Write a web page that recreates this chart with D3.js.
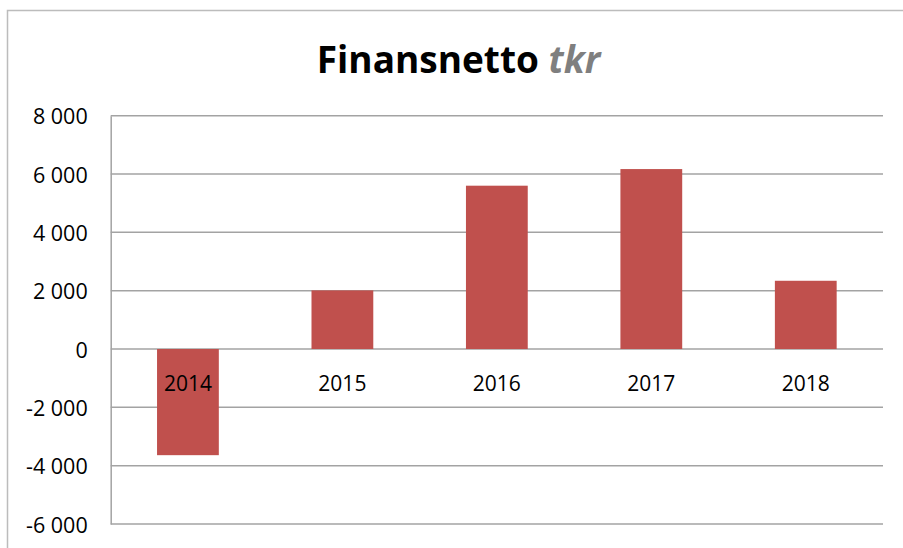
<!DOCTYPE html>
<html>
<head>
<meta charset="utf-8">
<script src="https://cdn.jsdelivr.net/npm/d3@7"></script>
<style>
  body { margin: 0; background: #fff; }
  text { font-family: "Open Sans", sans-serif; }
</style>
</head>
<body>
<script>
// chart data
var years = ["2014", "2015", "2016", "2017", "2018"];
var finansnetto = [-3640, 2010, 5600, 6170, 2340];
var yTicks = [-6000, -4000, -2000, 0, 2000, 4000, 6000, 8000];

var window_w = 903, window_h = 548;

var svg = d3.select("body").append("svg")
    .attr("width", window_w)
    .attr("height", window_h);

// outer chart border (runs off the right and bottom edge)
svg.append("rect")
    .attr("x", 7.5).attr("y", 10.5)
    .attr("width", 1000).attr("height", 1000)
    .attr("fill", "none")
    .attr("stroke", "#bcbcbc")
    .attr("stroke-width", 1.5);

var plot = {left: 110.7, right: 883, top: 115.7, bottom: 524};

var xScale = d3.scaleBand()
    .domain(years)
    .range([plot.left, plot.right])
    .paddingInner(0.6)
    .paddingOuter(0.3);

var yScale = d3.scaleLinear()
    .domain([-6000, 8000])
    .range([plot.bottom, plot.top]);

var fmt = d3.formatLocale({decimal: ",", thousands: " ", grouping: [3], currency: ["", ""], minus: "-"}).format(",d");

// gridlines
svg.append("g").selectAll("line")
    .data(yTicks)
    .join("line")
    .attr("x1", plot.left).attr("x2", plot.right)
    .attr("y1", function(d){ return yScale(d); })
    .attr("y2", function(d){ return yScale(d); })
    .attr("stroke", "#a3a3a3")
    .attr("stroke-width", 1.5);

// y axis
var yAxis = d3.axisLeft(yScale)
    .tickValues(yTicks)
    .tickFormat(fmt)
    .tickSize(0)
    .tickPadding(23);

var yAxisG = svg.append("g")
    .attr("transform", "translate(" + plot.left + ",0)")
    .call(yAxis);
yAxisG.select(".domain").attr("stroke", "#a3a3a3").attr("stroke-width", 1.5);
yAxisG.selectAll("text")
    .attr("font-family", "Open Sans, sans-serif")
    .attr("font-size", 21.5)
    .attr("fill", "#000")
    .attr("dy", "0.38em");

// bars
svg.append("g").selectAll("rect")
    .data(finansnetto)
    .join("rect")
    .attr("x", function(d, i){ return xScale(years[i]); })
    .attr("width", xScale.bandwidth())
    .attr("y", function(d){ return yScale(Math.max(0, d)); })
    .attr("height", function(d){ return Math.abs(yScale(d) - yScale(0)); })
    .attr("fill", "#c0504d");

// category labels
svg.append("g").selectAll("text")
    .data(years)
    .join("text")
    .attr("x", function(d){ return xScale(d) + xScale.bandwidth() / 2; })
    .attr("y", yScale(0) + 34)
    .attr("dy", "0.36em")
    .attr("text-anchor", "middle")
    .attr("font-size", 21)
    .attr("fill", "#000")
    .text(function(d){ return d; });

// title
var title = svg.append("text")
    .attr("x", 458.5)
    .attr("y", 73)
    .attr("text-anchor", "middle")
    .attr("font-size", 37)
    .attr("font-weight", "bold");
title.append("tspan").attr("fill", "#000").text("Finansnetto ");
title.append("tspan").attr("fill", "#7f7f7f").attr("font-style", "italic").text("tkr");
</script>
</body>
</html>
